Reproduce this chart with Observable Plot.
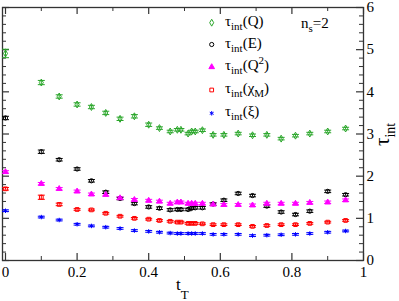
<!DOCTYPE html>
<html><head><meta charset="utf-8">
<script src="https://cdn.jsdelivr.net/npm/d3@7"></script>
<script src="https://cdn.jsdelivr.net/npm/@observablehq/plot@0.6"></script>
<style>
body{margin:0;background:#fff}
#chart svg{display:block}
#chart svg text, #chart svg tspan { font-family: "Liberation Serif", "DejaVu Serif", serif !important; }
</style>
</head><body><div id="chart"></div>
<script>
// ---- data ----
const tT = [0, 0.1, 0.15, 0.2, 0.24, 0.28, 0.32, 0.36, 0.4, 0.43, 0.46, 0.48, 0.49, 0.51, 0.52, 0.53, 0.55, 0.58, 0.61, 0.65, 0.69, 0.73, 0.77, 0.81, 0.85, 0.9, 0.95];
const tauQ   = [4.91, 4.22, 3.89, 3.70, 3.64, 3.50, 3.36, 3.42, 3.22, 3.14, 3.06, 3.10, 3.10, 3.01, 3.06, 3.06, 3.09, 2.98, 2.98, 3.01, 2.97, 2.98, 2.89, 2.96, 3.01, 3.06, 3.13];
const errQ   = [0.10, 0.05, 0.04, 0.04, 0.04, 0.04, 0.04, 0.04, 0.04, 0.03, 0.03, 0.03, 0.03, 0.03, 0.03, 0.03, 0.03, 0.03, 0.03, 0.03, 0.03, 0.03, 0.03, 0.03, 0.03, 0.03, 0.03];
const tauE   = [3.38, 2.58, 2.39, 2.17, 1.89, 1.62, 1.47, 1.35, 1.27, 1.24, 1.20, 1.21, 1.21, 1.21, 1.24, 1.25, 1.25, 1.34, 1.43, 1.59, 1.54, 1.29, 1.15, 1.09, 1.17, 1.64, 1.56];
const errE   = [0.04, 0.04, 0.03, 0.03, 0.03, 0.03, 0.03, 0.03, 0.03, 0.03, 0.03, 0.03, 0.03, 0.03, 0.03, 0.03, 0.03, 0.03, 0.03, 0.03, 0.03, 0.03, 0.03, 0.03, 0.03, 0.03, 0.03];
const tauQ2  = [2.10, 1.82, 1.70, 1.64, 1.57, 1.56, 1.48, 1.44, 1.42, 1.40, 1.35, 1.38, 1.38, 1.35, 1.35, 1.35, 1.35, 1.33, 1.32, 1.32, 1.31, 1.35, 1.35, 1.35, 1.37, 1.38, 1.43];
const errQ2  = [0.03, 0.03, 0.03, 0.03, 0.03, 0.03, 0.03, 0.03, 0.03, 0.03, 0.03, 0.03, 0.03, 0.03, 0.03, 0.03, 0.03, 0.03, 0.03, 0.03, 0.03, 0.03, 0.03, 0.03, 0.03, 0.03, 0.03];
const tauChi = [1.70, 1.50, 1.33, 1.21, 1.20, 1.12, 1.05, 1.00, 0.98, 0.95, 0.93, 0.91, 0.91, 0.88, 0.88, 0.88, 0.87, 0.85, 0.85, 0.85, 0.81, 0.83, 0.85, 0.85, 0.88, 0.91, 0.95];
const errChi = [0.03, 0.05, 0.03, 0.02, 0.02, 0.02, 0.02, 0.02, 0.02, 0.02, 0.02, 0.02, 0.02, 0.02, 0.02, 0.02, 0.02, 0.02, 0.02, 0.02, 0.02, 0.02, 0.02, 0.02, 0.02, 0.02, 0.02];
const tauXi  = [1.18, 1.03, 0.96, 0.86, 0.82, 0.79, 0.76, 0.71, 0.69, 0.67, 0.65, 0.64, 0.64, 0.64, 0.64, 0.64, 0.64, 0.62, 0.62, 0.62, 0.59, 0.60, 0.61, 0.62, 0.64, 0.67, 0.70];
const errXi  = [0.02, 0.02, 0.02, 0.02, 0.02, 0.02, 0.02, 0.02, 0.02, 0.02, 0.02, 0.02, 0.02, 0.02, 0.02, 0.02, 0.02, 0.02, 0.02, 0.02, 0.02, 0.02, 0.02, 0.02, 0.02, 0.02, 0.02];
const xTicks = [0, 0.2, 0.4, 0.6, 0.8, 1];
const xMinorTicks = [0.1, 0.3, 0.5, 0.7, 0.9];
const yTicks = [0, 1, 2, 3, 4, 5, 6];
const yMinorTicks = [0.2,0.4,0.6,0.8,1.2,1.4,1.6,1.8,2.2,2.4,2.6,2.8,3.2,3.4,3.6,3.8,4.2,4.4,4.6,4.8,5.2,5.4,5.6,5.8];

// ---- styling ----
const series = [
  {name: "Q",    y: tauQ,   e: errQ,   color: "#2aa62a", symbol: "diamond",  fill: "none"},
  {name: "E",    y: tauE,   e: errE,   color: "#000000", symbol: "circle",   fill: "none"},
  {name: "Q2",   y: tauQ2,  e: errQ2,  color: "#ff00ff", symbol: "triangle", fill: "#ff00ff"},
  {name: "chiM", y: tauChi, e: errChi, color: "#ff0000", symbol: "square",   fill: "none"},
  {name: "xi",   y: tauXi,  e: errXi,  color: "#0000ff", symbol: "asterisk", fill: "none"}
];
const rows = series.flatMap(s => tT.map((x, i) => ({x, y: s.y[i], e: s.e[i], color: s.color, name: s.name})));

const W = 399, H = 301, mL = 2, mR = 36, mT = 7, mB = 41;
const pW = W - mL - mR, pH = H - mT - mB;
const axisColor = "#333";
const R = 2.1;
const capSymbol = {draw(ctx) { ctx.moveTo(-3.5, 0); ctx.lineTo(3.5, 0); }};

const marks = [
  Plot.frame({stroke: axisColor, strokeWidth: 1.3}),
  // inward ticks
  Plot.ruleX(xTicks, {x: d => d, insetTop: pH - 7, stroke: axisColor, strokeWidth: 1.2}),
  Plot.ruleX(xTicks, {x: d => d, insetBottom: pH - 7, stroke: axisColor, strokeWidth: 1.2}),
  Plot.ruleX(xMinorTicks, {x: d => d, insetTop: pH - 4, stroke: axisColor}),
  Plot.ruleX(xMinorTicks, {x: d => d, insetBottom: pH - 4, stroke: axisColor}),
  Plot.ruleY(yTicks, {y: d => d, insetRight: pW - 7, stroke: axisColor, strokeWidth: 1.2}),
  Plot.ruleY(yTicks, {y: d => d, insetLeft: pW - 7, stroke: axisColor, strokeWidth: 1.2}),
  Plot.ruleY(yMinorTicks, {y: d => d, insetRight: pW - 4, stroke: axisColor}),
  Plot.ruleY(yMinorTicks, {y: d => d, insetLeft: pW - 4, stroke: axisColor}),
  Plot.axisX({ticks: xTicks, tickSize: 0, tickPadding: 6, tickFormat: d => String(d), label: null, fontSize: 15, fill: "#000"}),
  Plot.axisY({anchor: "right", ticks: yTicks, tickSize: 0, tickPadding: 3, tickFormat: d => String(d), label: null, fontSize: 15, fill: "#000"}),
  // error bars
  Plot.ruleX(rows, {x: "x", y1: d => d.y - d.e, y2: d => d.y + d.e, stroke: "color", strokeWidth: 1}),
  Plot.dot(rows, {x: "x", y: d => d.y + d.e, symbol: capSymbol, stroke: "color", strokeWidth: 1}),
  Plot.dot(rows, {x: "x", y: d => d.y - d.e, symbol: capSymbol, stroke: "color", strokeWidth: 1}),
  // markers
  ...series.map(s => Plot.dot(rows.filter(d => d.name === s.name), {
    x: "x", y: "y", symbol: s.symbol, r: R, stroke: s.color, fill: s.fill, strokeWidth: 1
  }))
];

const chart = Plot.plot({
  width: W, height: H,
  marginLeft: mL, marginRight: mR, marginTop: mT, marginBottom: mB,
  x: {domain: [-3 / 358, 1], axis: null},
  y: {domain: [0, 6], axis: null},
  color: {type: "identity"},
  style: {background: "#fff", color: "#000"},
  marks
});
document.getElementById("chart").appendChild(chart);

// ---- legend and axis titles (rich text) ----
const svg = d3.select(chart);
const lg = svg.append("g").attr("fill", "#000").attr("text-anchor", "start");
const legendY = [22.7, 44.5, 67, 90, 113.3];
const symMap = {diamond: d3.symbolDiamond, circle: d3.symbolCircle, triangle: d3.symbolTriangle, square: d3.symbolSquare, asterisk: d3.symbolAsterisk};
series.forEach((s, i) => {
  const y = legendY[i];
  lg.append("path")
    .attr("transform", `translate(211.7,${y})`)
    .attr("d", d3.symbol(symMap[s.symbol], Math.PI * R * R)())
    .attr("stroke", s.color).attr("fill", s.fill).attr("stroke-width", 1);
  const t = lg.append("text").attr("x", 225).attr("y", y + 3).attr("font-size", 15);
  t.append("tspan").text("τ");
  t.append("tspan").attr("font-size", 11).attr("dy", 4).text("int");
  if (s.name === "Q") { t.append("tspan").attr("dy", -4).text("(Q)"); }
  if (s.name === "E") { t.append("tspan").attr("dy", -4).text("(E)"); }
  if (s.name === "Q2") {
    t.append("tspan").attr("dy", -4).text("(Q");
    t.append("tspan").attr("font-size", 11).attr("dy", -6).text("2");
    t.append("tspan").attr("dy", 6).text(")");
  }
  if (s.name === "chiM") {
    t.append("tspan").attr("dy", -4).text("(χ");
    t.append("tspan").attr("font-size", 11).attr("dy", 4).text("M");
    t.append("tspan").attr("dy", -4).text(")");
  }
  if (s.name === "xi") { t.append("tspan").attr("dy", -4).text("(ξ)"); }
});
// n_s = 2
const ns = lg.append("text").attr("x", 301).attr("y", 28).attr("font-size", 15);
ns.append("tspan").text("n");
ns.append("tspan").attr("font-size", 11).attr("dy", 4).text("s");
ns.append("tspan").attr("dy", -4).text("=2");
// x title t_T
const xt = lg.append("text").attr("x", 176).attr("y", 290).attr("font-size", 17);
xt.append("tspan").text("t");
xt.append("tspan").attr("font-size", 13).attr("dy", 9).text("T");
// y title tau_int (rotated)
const yt = lg.append("text").attr("transform", "translate(389,146) rotate(-90)").attr("font-size", 21);
yt.append("tspan").text("τ");
yt.append("tspan").attr("font-size", 14).attr("dy", 6).text("int");
</script>
</body></html>
